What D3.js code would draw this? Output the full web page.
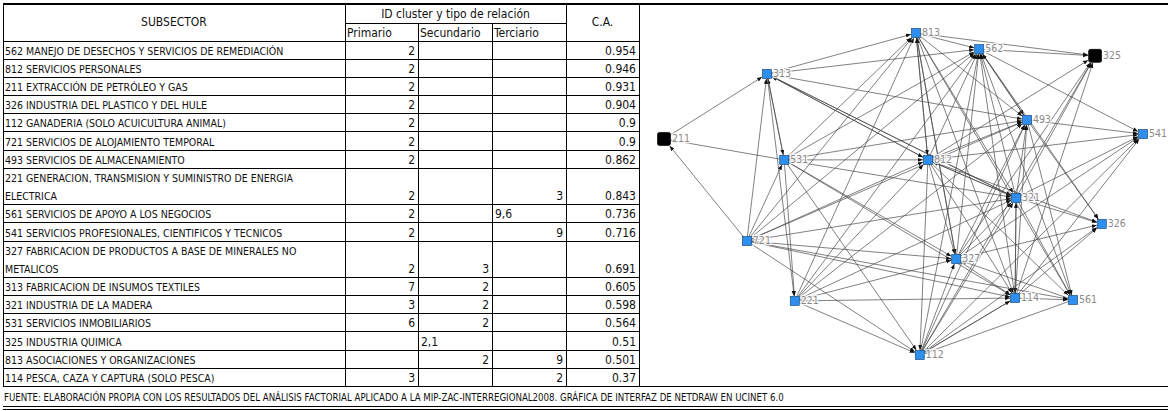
<!DOCTYPE html>
<html>
<head>
<meta charset="utf-8">
<title>Subsectores y red NetDraw</title>
<script src="https://d3js.org/d3.v7.min.js"></script>
<style>
  body { margin: 0; background: #fff; }
  svg text { font-family: "Liberation Sans Narrow", "DejaVu Sans Condensed", sans-serif; fill: #111; }
  .lbl { fill: #8a8a8a; font-family: "DejaVu Sans Condensed", "Liberation Sans Narrow", sans-serif;
         stroke: #fff; stroke-width: 2.5px; paint-order: stroke; stroke-opacity: 0.85; }
</style>
</head>
<body>
<div id="chart"></div>
<script>
/* global d3 */

// ---- table data ----
const subsectors = [
  '562 MANEJO DE DESECHOS Y SERVICIOS DE REMEDIACIÓN',
  '812 SERVICIOS PERSONALES',
  '211 EXTRACCIÓN DE PETRÓLEO Y GAS',
  '326 INDUSTRIA DEL PLASTICO Y DEL HULE',
  '112 GANADERIA (SOLO ACUICULTURA ANIMAL)',
  '721 SERVICIOS DE ALOJAMIENTO TEMPORAL',
  '493 SERVICIOS DE ALMACENAMIENTO',
  '221 GENERACION, TRANSMISION Y SUMINISTRO DE ENERGIA|ELECTRICA',
  '561 SERVICIOS DE APOYO A LOS NEGOCIOS',
  '541 SERVICIOS PROFESIONALES, CIENTIFICOS Y TECNICOS',
  '327 FABRICACION DE PRODUCTOS A BASE DE MINERALES NO|METALICOS',
  '313 FABRICACION DE INSUMOS TEXTILES',
  '321 INDUSTRIA DE LA MADERA',
  '531 SERVICIOS INMOBILIARIOS',
  '325 INDUSTRIA QUIMICA',
  '813 ASOCIACIONES Y ORGANIZACIONES',
  '114 PESCA, CAZA Y CAPTURA (SOLO PESCA)'
];
const primario   = ['2','2','2','2','2','2','2','2','2','2','2','7','3','6','','','3'];
const secundario = ['','','','','','','','','','','3','2','2','2','2,1','2',''];
const terciario  = ['','','','','','','','3','9,6','9','','','','','','9','2'];
const ca = ['0.954','0.946','0.931','0.904','0.9','0.9','0.862','0.843','0.736','0.716','0.691','0.605','0.598','0.564','0.51','0.501','0.37'];

const headers = ['SUBSECTOR', 'ID cluster y tipo de relación', 'Primario', 'Secundario', 'Terciario', 'C.A.'];
const footer = 'FUENTE: ELABORACIÓN PROPIA CON LOS RESULTADOS DEL ANÁLISIS FACTORIAL APLICADO A LA MIP-ZAC-INTERREGIONAL2008. GRÁFICA DE INTERFAZ DE NETDRAW EN UCINET 6.0';

// ---- network data (layout units 0..100) ----
const nodeIds = ['211','313','813','562','325','493','541','531','812','321','326','721','327','221','114','561','112'];
const nodeX   = [0, 21.5, 52.6, 65.8, 90.0, 75.8, 100, 25.1, 55.1, 73.5, 91.4, 17.3, 61.0, 27.3, 73.3, 85.4, 53.4];
const nodeY   = [32.9, 12.7, 0, 5.0, 7.1, 27.0, 31.4, 39.4, 39.4, 51.2, 59.3, 64.6, 70.2, 83.2, 82.3, 82.9, 100];
const blackNodes = ['211', '325'];

const edges = [
  ['531','211'], ['721','211'], ['211','313'],
  ['721','313'], ['531','313'], ['812','313'], ['321','313'],
  ['313','813'], ['313','562'], ['313','493'], ['313','531'], ['313','221'], ['313','812'], ['313','321'],
  ['531','562'], ['531','813'], ['531','812'], ['531','493'], ['531','321'], ['531','327'], ['531','221'], ['531','114'], ['531','112'],
  ['721','531'], ['721','813'], ['721','562'], ['721','812'], ['721','493'], ['721','321'], ['721','327'], ['721','114'], ['721','561'], ['721','112'],
  ['812','813'], ['813','812'], ['812','562'], ['812','493'], ['812','541'], ['812','321'], ['321','812'], ['812','327'], ['812','114'], ['812','112'], ['812','561'], ['812','325'], ['812','326'],
  ['813','562'], ['813','325'], ['813','321'], ['813','114'], ['813','493'], ['813','561'], ['813','327'],
  ['221','813'], ['327','813'],
  ['562','325'], ['562','541'], ['562','326'], ['562','493'],
  ['221','562'], ['327','562'], ['114','562'], ['321','562'], ['561','562'], ['112','562'], ['493','562'],
  ['327','325'], ['321','325'], ['114','325'], ['112','325'],
  ['493','541'], ['493','561'], ['493','326'],
  ['221','493'], ['327','493'], ['112','493'], ['114','493'], ['321','493'],
  ['321','541'], ['327','541'], ['114','541'], ['112','541'],
  ['321','326'], ['327','326'], ['114','326'], ['112','326'],
  ['221','321'], ['327','321'], ['112','321'], ['321','114'], ['114','321'], ['321','561'],
  ['221','812'], ['221','327'], ['221','114'], ['221','112'],
  ['112','327'], ['327','114'], ['561','327'],
  ['114','561'], ['561','112'], ['114','112'], ['112','114']
];

// ---- svg ----
const W = 1168, H = 411;
const svg = d3.select('#chart').append('svg')
  .attr('width', W).attr('height', H);
svg.append('rect').attr('width', W).attr('height', H).attr('fill', '#fff');

// table geometry
const colEdges = [3, 345, 418, 492, 566, 639];
const rowUnits = subsectors.map(s => s.includes('|') ? 2 : 1);
const rowStart = [];
rowUnits.reduce((acc, u, i) => { rowStart[i] = acc; return acc + u; }, 0);
const totalUnits = d3.sum(rowUnits);
const yRow = d3.scaleLinear().domain([0, totalUnits]).range([41, 386.5]);

const grid = svg.append('g').attr('stroke', '#000').attr('stroke-width', 1).attr('shape-rendering', 'crispEdges');

// outer top line across figure
grid.append('line').attr('x1', 3).attr('x2', W).attr('y1', 4).attr('y2', 4).attr('stroke-width', 1.5);
// bottom of table / graph
grid.append('line').attr('x1', 3).attr('x2', W).attr('y1', yRow(totalUnits)).attr('y2', yRow(totalUnits));
// double bottom rule
grid.append('line').attr('x1', 3).attr('x2', W).attr('y1', 406).attr('y2', 406);
grid.append('line').attr('x1', 3).attr('x2', W).attr('y1', 409).attr('y2', 409);

// vertical lines
colEdges.forEach((x, i) => {
  const top = (i === 2 || i === 3) ? 23 : 4;
  grid.append('line').attr('x1', x).attr('x2', x).attr('y1', top).attr('y2', yRow(totalUnits));
});
// header horizontal lines
grid.append('line').attr('x1', colEdges[1]).attr('x2', colEdges[4]).attr('y1', 23).attr('y2', 23);
// row lines
d3.range(subsectors.length).forEach(i => {
  const y = yRow(rowStart[i]);
  grid.append('line').attr('x1', colEdges[0]).attr('x2', colEdges[5]).attr('y1', y).attr('y2', y);
});

// headers
const th = svg.append('g').style('font-size', '12px');
th.append('text').attr('x', (colEdges[0] + colEdges[1]) / 2).attr('y', 26).attr('text-anchor', 'middle').text(headers[0]);
th.append('text').attr('x', (colEdges[1] + colEdges[4]) / 2).attr('y', 18).attr('text-anchor', 'middle').text(headers[1]);
th.append('text').attr('x', colEdges[1] + 2).attr('y', 37).text(headers[2]);
th.append('text').attr('x', colEdges[2] + 2).attr('y', 37).text(headers[3]);
th.append('text').attr('x', colEdges[3] + 2).attr('y', 37).text(headers[4]);
th.append('text').attr('x', (colEdges[4] + colEdges[5]) / 2).attr('y', 26).attr('text-anchor', 'middle').text(headers[5]);

// rows
const tb = svg.append('g').style('font-size', '10.5px');
subsectors.forEach((name, i) => {
  const top = yRow(rowStart[i]);
  const bottom = yRow(rowStart[i] + rowUnits[i]);
  const base = bottom - 4.5;
  const lines = name.split('|');
  lines.forEach((ln, k) => {
    tb.append('text').attr('x', colEdges[0] + 2)
      .attr('y', lines.length === 1 ? base : (k === 0 ? top + 13.5 : base))
      .text(ln);
  });
  [primario, secundario, terciario].forEach((arr, c) => {
    const v = arr[i];
    if (!v) return;
    const isText = v.includes(',');
    tb.append('text')
      .attr('x', isText ? colEdges[c + 1] + 3 : colEdges[c + 2] - 3)
      .attr('y', base)
      .attr('text-anchor', isText ? 'start' : 'end')
      .style('font-size', '12px')
      .text(v);
  });
  tb.append('text').attr('x', colEdges[5] - 3).attr('y', base)
    .attr('text-anchor', 'end').style('font-size', '12px').text(ca[i]);
});

// footer
svg.append('text').attr('x', 4).attr('y', 401).style('font-size', '9.6px').text(footer);

// ---- network ----
const xScale = d3.scaleLinear().domain([0, 100]).range([664, 1143]);
const yScale = d3.scaleLinear().domain([0, 100]).range([33, 355]);
const nodes = nodeIds.map((id, i) => ({
  id, x: xScale(nodeX[i]), y: yScale(nodeY[i]),
  half: blackNodes.includes(id) ? 6.5 : 4.5
}));
const byId = new Map(nodes.map(n => [n.id, n]));

svg.append('defs').append('marker')
  .attr('id', 'arrow')
  .attr('viewBox', '0 0 10 10')
  .attr('refX', 10).attr('refY', 5)
  .attr('markerWidth', 5).attr('markerHeight', 5)
  .attr('markerUnits', 'userSpaceOnUse')
  .attr('orient', 'auto')
  .append('path').attr('d', 'M0,1 L10,5 L0,9 Z').attr('fill', '#111');

function clipToSquare(s, t) {
  const dx = s.x - t.x, dy = s.y - t.y;
  const m = Math.max(Math.abs(dx), Math.abs(dy));
  const k = (t.half + 0.5) / m;
  return [t.x + dx * k, t.y + dy * k];
}

svg.append('g')
  .selectAll('line')
  .data(edges)
  .join('line')
    .each(function (d) {
      const s = byId.get(d[0]), t = byId.get(d[1]);
      const [x2, y2] = clipToSquare(s, t);
      d3.select(this)
        .attr('x1', s.x).attr('y1', s.y)
        .attr('x2', x2).attr('y2', y2);
    })
    .attr('stroke', '#444')
    .attr('stroke-opacity', 0.85)
    .attr('stroke-width', 0.8)
    .attr('marker-end', 'url(#arrow)');

const ng = svg.append('g').selectAll('g').data(nodes).join('g');
ng.append('rect')
  .attr('x', d => d.x - d.half).attr('y', d => d.y - d.half)
  .attr('width', d => d.half * 2).attr('height', d => d.half * 2)
  .attr('rx', d => blackNodes.includes(d.id) ? 2 : 0)
  .attr('fill', d => blackNodes.includes(d.id) ? '#000' : '#2f8fef')
  .attr('stroke', d => blackNodes.includes(d.id) ? '#000' : '#1a4f80')
  .attr('stroke-width', 0.7);
ng.append('text')
  .attr('class', 'lbl')
  .attr('x', d => d.x + d.half + 1.5)
  .attr('y', d => d.y + 3)
  .style('font-size', '10.5px')
  .text(d => d.id);
</script>
</body>
</html>
